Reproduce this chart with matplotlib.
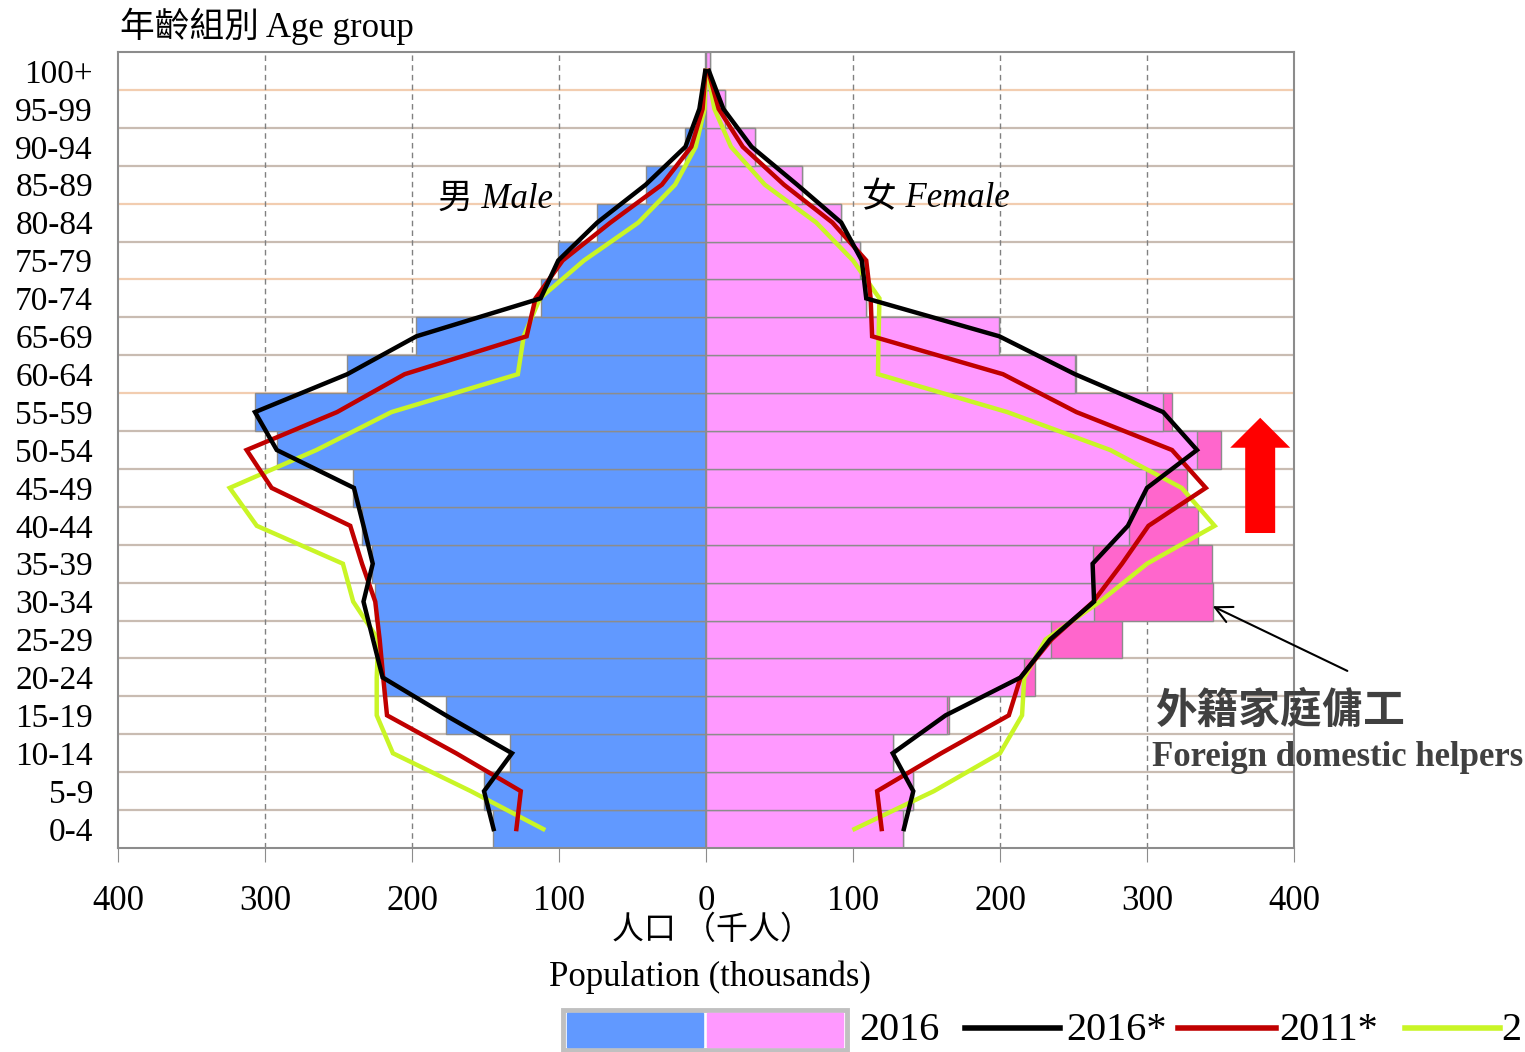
import matplotlib.pyplot as plt
import numpy as np
from matplotlib.patches import Rectangle, FancyArrow
from matplotlib.lines import Line2D

# age groups, bottom to top
ages = ["0-4", "5-9", "10-14", "15-19", "20-24", "25-29", "30-34", "35-39",
        "40-44", "45-49", "50-54", "55-59", "60-64", "65-69", "70-74",
        "75-79", "80-84", "85-89", "90-94", "95-99", "100+"]

# 2016 bars (thousands)
male_2016 = [145, 151, 133, 177, 220, 224, 225, 227, 234, 240, 292, 307,
             244, 197, 112, 101, 74, 41, 14.5, 3, 0.5]
female_2016 = [134, 141, 127, 165, 224, 283, 345, 344, 335, 327, 350, 317,
               252, 199, 109, 105, 92, 65, 33, 13, 3]
female_2016_local = [134, 141, 127, 164, 216, 235, 264, 263, 288, 299, 334, 311,
                     251, 199, 109, 105, 92, 65, 33, 13, 3]

# lines (thousands)
male_2016s = [144.5, 151, 132, 177, 220, 226.5, 233, 226.7, 233, 239.5, 292, 306.8,
              244, 197, 112.5, 100.5, 74, 41, 14, 4.5, 0.5]
female_2016s = [134.6, 141, 127, 163, 214, 234, 264, 263, 287, 300, 334, 311,
                251, 199.5, 109, 106, 92, 62, 31, 11.8, 2]
male_2011s = [129, 126, 170, 217, 219.6, 222, 225, 234, 242, 295.5, 312.5, 251,
              205, 122, 116, 97.5, 65, 30, 10, 2.3, 0.3]
female_2011s = [119.5, 116.4, 160, 206, 214, 235, 263.5, 283, 301, 340, 317, 252,
                202, 113, 112, 109, 86, 53, 25, 8.6, 1.5]
male_2006s = [110.7, 160, 213, 224, 224, 223, 240, 247, 305.6, 324, 265, 214,
              128, 124, 113, 83, 46, 21, 7, 1, 0.2]
female_2006s = [101, 155, 200, 215, 216.5, 231, 268, 300, 346, 323.6, 275, 205,
                117, 117.4, 118, 100, 75, 40, 17, 5.7, 1]

serif = ['Liberation Serif', 'Noto Sans CJK TC']
plt.rcParams['font.family'] = serif

W, H = 1525, 1052
def fx(px):
    return px / W
def fy(py):
    return 1 - py / H

blue = '#6199FF'
pink = '#FF99FF'
hotpink = '#FF66CC'
edge = '#8C8C8C'

fig = plt.figure(figsize=(15.25, 10.52), dpi=100)
ax = fig.add_axes([fx(118), fy(848), fx(1294) - fx(118), fy(52) - fy(848)])

y = np.arange(len(ages))

for b in np.arange(0.5, 20, 1):
    c = '#F2CDB0' if b in (11.5, 14.5, 16.5, 19.5) else '#C9BCB2'
    ax.axhline(b, color=c, lw=1.6, zorder=0.5)
for v in [-300, -200, -100, 100, 200, 300]:
    ax.axvline(v, color='#808080', lw=1, ls=(0, (4, 3)), zorder=0.6)

ax.barh(y, -np.array(male_2016), height=1, color=blue, edgecolor=edge, lw=1, zorder=1)
ax.barh(y, female_2016, height=1, color=hotpink, edgecolor=edge, lw=1, zorder=1)
ax.barh(y, female_2016_local, height=1, color=pink, edgecolor=edge, lw=1, zorder=1.1)
ax.axvline(0, color=edge, lw=1.2, zorder=1.5)

series = [(male_2006s, female_2006s, '#C9F526'),
          (male_2011s, female_2011s, '#C00000'),
          (male_2016s, female_2016s, 'black')]
for m, f, c in series:
    ax.plot(-np.array(m), y, color=c, lw=3.2, zorder=3, solid_joinstyle='miter')
    ax.plot(f, y, color=c, lw=3.2, zorder=3, solid_joinstyle='miter')

ax.set_xlim(-400, 400)
ax.set_ylim(-0.5, 20.5)
xt = np.arange(-400, 401, 100)
ax.set_xticks(xt)
ax.set_xticklabels([str(abs(v)) for v in xt])
ax.set_yticks(y)
ax.set_yticklabels(ages)
ax.tick_params(axis='x', length=10, color=edge, pad=17, labelsize=25)
ax.tick_params(axis='y', length=0, pad=18, labelsize=24)
for s in ax.spines.values():
    s.set_color(edge)
    s.set_linewidth(1.5)

ax.text(-143, 16.62, '男 Male', style='italic', fontsize=25, ha='center', va='center')
ax.text(156, 16.62, '女 Female', style='italic', fontsize=25, ha='center', va='center')

# red arrow
ax.add_patch(FancyArrow(377, 7.81, 0, 3.04, width=20.4, head_width=40.8,
                        head_length=0.79, length_includes_head=True,
                        color='#FF0000', lw=0, zorder=4))
# foreign domestic helpers pointer
ax.annotate('', xy=(343, 5.91), xytext=(438, 4.14),
            arrowprops=dict(arrowstyle='->', color='black', lw=1.5, mutation_scale=30),
            annotation_clip=False)

fig.text(fx(1155), fy(712), '外籍家庭傭工', fontsize=30, fontweight='bold',
         color='#404040', va='center', ha='left')
fig.text(fx(1152), fy(757), 'Foreign domestic helpers', fontsize=25, fontweight='bold',
         color='#404040', va='center', ha='left')

fig.text(fx(120), fy(26), '年齡組別 Age group', fontsize=25, va='center', ha='left')
fig.text(fx(712), fy(931), '人口 （千人）', fontsize=23, va='center', ha='center')
fig.text(fx(710), fy(977), 'Population (thousands)', fontsize=25, va='center', ha='center')

# legend
fig.add_artist(Rectangle((fx(563), fy(1050)), fx(847) - fx(563), fy(1010) - fy(1050),
                         transform=fig.transFigure, fill=False, ec='#C0C0C0', lw=3.5))
fig.add_artist(Rectangle((fx(567), fy(1047)), fx(703) - fx(567), fy(1013) - fy(1047),
                         transform=fig.transFigure, color=blue))
fig.add_artist(Rectangle((fx(707), fy(1047)), fx(843) - fx(707), fy(1013) - fy(1047),
                         transform=fig.transFigure, color=pink))
fig.text(fx(859), fy(1031), '2016', fontsize=29, va='center', ha='left')
for x0, x1, c, lab, tx in [(965, 1060, 'black', '2016*', 1066),
                           (1178, 1276, '#C00000', '2011*', 1279),
                           (1405, 1500, '#C9F526', '2', 1501)]:
    fig.add_artist(Line2D([fx(x0), fx(x1)], [fy(1028), fy(1028)],
                          transform=fig.transFigure, color=c, lw=4))
    fig.text(fx(tx), fy(1031), lab, fontsize=29, va='center', ha='left')

fig.savefig('out.png', dpi=100)
